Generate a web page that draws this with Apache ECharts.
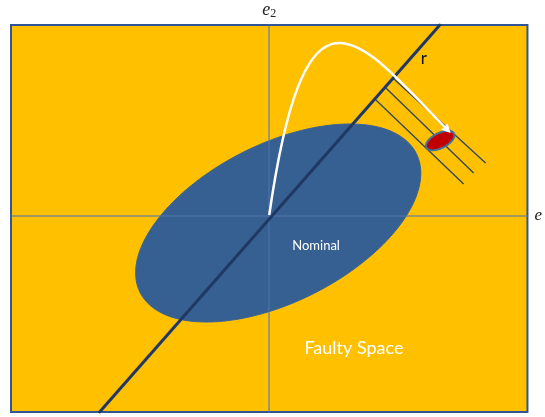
<!DOCTYPE html>
<html>
<head>
<meta charset="utf-8">
<script src="https://cdn.jsdelivr.net/npm/echarts@6/dist/echarts.min.js"></script>
<style>
  html, body { margin: 0; padding: 0; background: #fff; }
  #main { width: 545px; height: 417px; }
</style>
</head>
<body>
<div id="main"></div>
<script>
// diagram space: origin at the crossing of e1 / e2, units ~ pixels
const xRange = [-259, 259]
const yRange = [-196, 191]

// [cx, cy, semi-major, semi-minor, angle deg]
const nominalEllipse = [9, -7, 155, 79, 26.6]
const faultEllipse = [171.5, 75.5, 15.5, 7.5, 27]

// residual direction r
const rLine = [[-171, -197], [172, 192]]

// projection lines, parallel, from r downwards
const projLines = [
  [[124, 138], [217, 53]],
  [[117, 128], [205, 43]],
  [[107, 116], [195, 32]]
]

// white residual path: cubic bezier (start, c1, c2, tip)
const residualCurve = [[0, 1], [37, 256], [90, 176], [182, 83]]

const textLabels = [
  { name: 'Nominal', value: [47, -30] },
  { name: 'Faulty Space', value: [85, -132] },
  { name: 'r', value: [155, 157] }
]

function ellipsePoints(api, cx, cy, a, b, deg) {
  const th = deg * Math.PI / 180
  const pts = []
  for (let i = 0; i < 120; i++) {
    const t = i / 120 * Math.PI * 2
    const x = cx + a * Math.cos(t) * Math.cos(th) - b * Math.sin(t) * Math.sin(th)
    const y = cy + a * Math.cos(t) * Math.sin(th) + b * Math.sin(t) * Math.cos(th)
    pts.push(api.coord([x, y]))
  }
  return pts
}

const labelStyles = {
  'Nominal': { fill: '#fff', font: '13px Lato' },
  'Faulty Space': { fill: '#fff', font: '18px Lato' },
  'r': { fill: '#111', font: '17px Lato' }
}

const chart = echarts.init(document.getElementById('main'))

const options = {
  animation: false,
  grid: {
    left: 11,
    right: 16,
    top: 25,
    bottom: 5,
    show: true,
    backgroundColor: '#FFC000',
    borderColor: '#2F5597',
    borderWidth: 2
  },
  xAxis: {
    type: 'value',
    min: xRange[0],
    max: xRange[1],
    z: 3,
    name: 'e',
    nameLocation: 'end',
    nameGap: 7,
    nameTextStyle: {
      fontFamily: 'Liberation Serif',
      fontStyle: 'italic',
      fontSize: 17,
      color: '#222'
    },
    axisLine: { lineStyle: { color: 'rgba(80,115,175,0.7)', width: 1.5 } },
    axisTick: { show: false },
    axisLabel: { show: false },
    splitLine: { show: false }
  },
  yAxis: {
    type: 'value',
    min: yRange[0],
    max: yRange[1],
    z: 3,
    name: '{e|e}{s|2}',
    nameLocation: 'end',
    nameGap: 5,
    nameTextStyle: {
      rich: {
        e: { fontFamily: 'Liberation Serif', fontStyle: 'italic', fontSize: 18, color: '#222' },
        s: { fontFamily: 'Liberation Serif', fontSize: 12, color: '#222', padding: [8, 0, 0, 0] }
      }
    },
    axisLine: { lineStyle: { color: 'rgba(80,115,175,0.7)', width: 1.5 } },
    axisTick: { show: false },
    axisLabel: { show: false },
    splitLine: { show: false }
  },
  series: [
    {
      // nominal region
      type: 'custom',
      z: 1,
      silent: true,
      data: [nominalEllipse],
      renderItem: (params, api) => {
        return {
          type: 'polygon',
          shape: { points: ellipsePoints(api, api.value(0), api.value(1), api.value(2), api.value(3), api.value(4)) },
          style: { fill: '#376092', stroke: '#3A6496', lineWidth: 1 }
        }
      }
    },
    {
      // r direction
      type: 'line',
      z: 4,
      silent: true,
      symbol: 'none',
      data: rLine,
      lineStyle: { color: '#1F3864', width: 3 }
    },
    {
      // projection lines
      type: 'custom',
      z: 4,
      silent: true,
      data: projLines.map(l => [l[0][0], l[0][1], l[1][0], l[1][1]]),
      renderItem: (params, api) => {
        const p1 = api.coord([api.value(0), api.value(1)])
        const p2 = api.coord([api.value(2), api.value(3)])
        return {
          type: 'line',
          shape: { x1: p1[0], y1: p1[1], x2: p2[0], y2: p2[1] },
          style: { stroke: '#2E4662', lineWidth: 1.3 }
        }
      }
    },
    {
      // fault
      type: 'custom',
      z: 5,
      silent: true,
      data: [faultEllipse],
      renderItem: (params, api) => {
        return {
          type: 'polygon',
          shape: { points: ellipsePoints(api, api.value(0), api.value(1), api.value(2), api.value(3), api.value(4)) },
          style: { fill: '#C00000', stroke: '#41719C', lineWidth: 2 }
        }
      }
    },
    {
      // residual trajectory
      type: 'custom',
      z: 6,
      silent: true,
      data: [[0]],
      renderItem: (params, api) => {
        const p = residualCurve.map(v => api.coord(v))
        const tip = p[3]
        const dx = tip[0] - p[2][0]
        const dy = tip[1] - p[2][1]
        const len = Math.sqrt(dx * dx + dy * dy)
        const ux = dx / len
        const uy = dy / len
        const hl = 9
        const hw = 4.5
        const bx = tip[0] - ux * hl
        const by = tip[1] - uy * hl
        return {
          type: 'group',
          children: [
            {
              type: 'bezierCurve',
              shape: {
                x1: p[0][0], y1: p[0][1],
                cpx1: p[1][0], cpy1: p[1][1],
                cpx2: p[2][0], cpy2: p[2][1],
                x2: bx + ux * 2, y2: by + uy * 2
              },
              style: { stroke: '#fff', lineWidth: 2.5, fill: null }
            },
            {
              type: 'polygon',
              shape: {
                points: [
                  tip,
                  [bx - uy * hw, by + ux * hw],
                  [bx + uy * hw, by - ux * hw]
                ]
              },
              style: { fill: '#fff' }
            }
          ]
        }
      }
    },
    {
      // texts
      type: 'custom',
      z: 7,
      silent: true,
      data: textLabels.map(d => d.value),
      renderItem: (params, api) => {
        const d = textLabels[params.dataIndex]
        const p = api.coord([api.value(0), api.value(1)])
        const st = labelStyles[d.name]
        return {
          type: 'text',
          style: {
            text: d.name,
            x: p[0],
            y: p[1],
            fill: st.fill,
            font: st.font,
            align: 'center',
            verticalAlign: 'middle'
          }
        }
      }
    }
  ]
}

chart.setOption(options)
</script>
</body>
</html>
